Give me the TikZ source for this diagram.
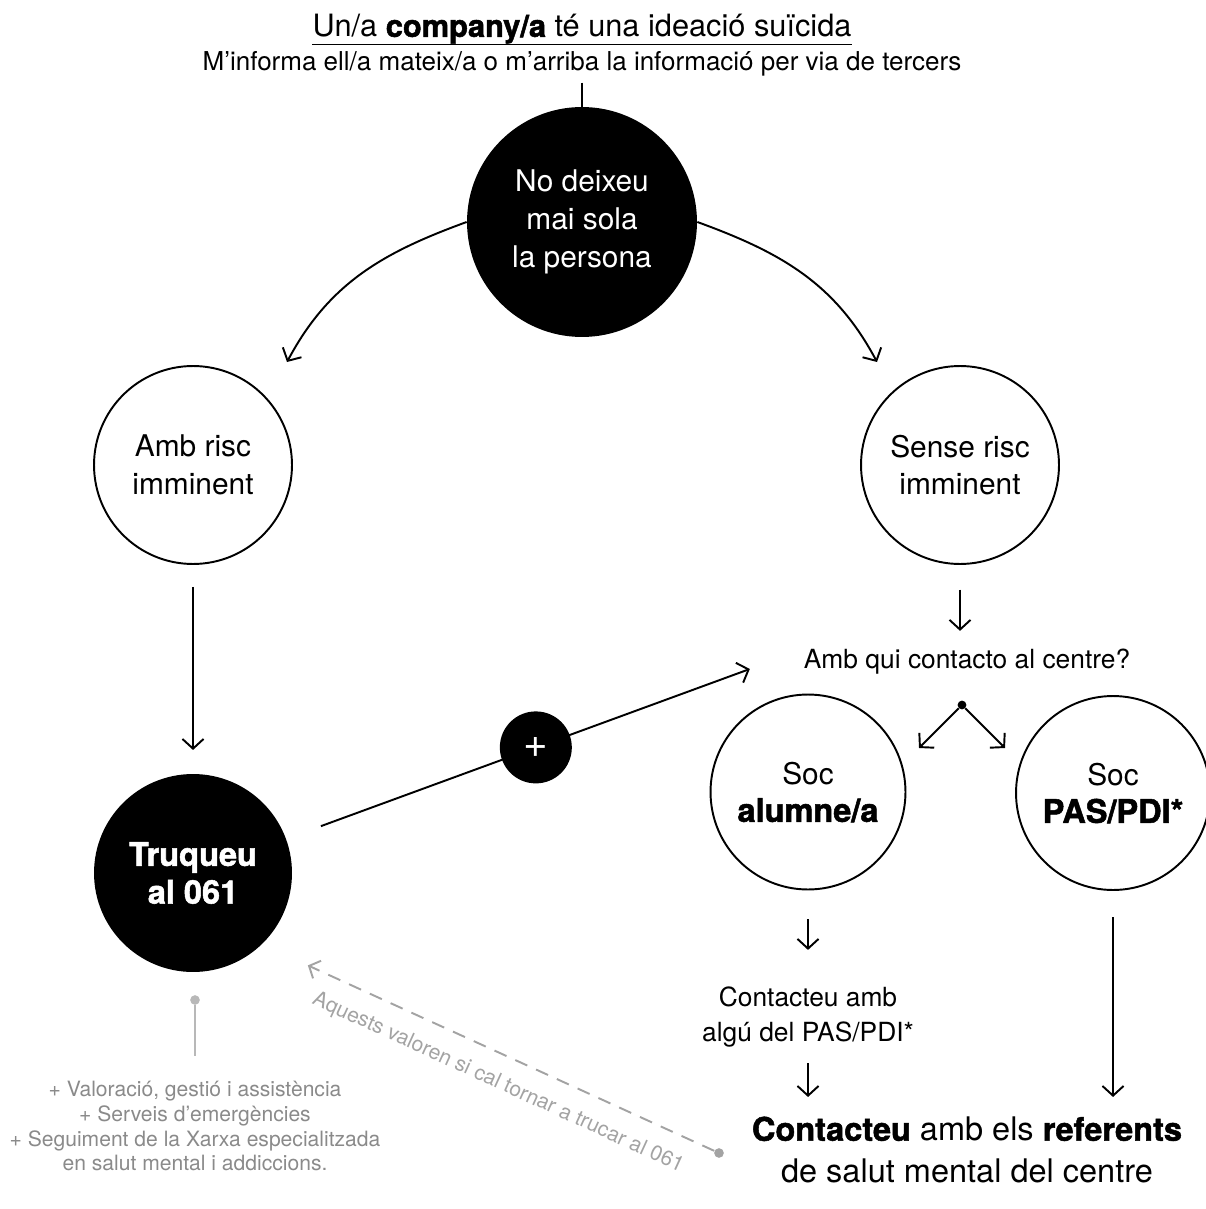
\documentclass[tikz,border=0pt]{standalone}
\usepackage{fontspec}
\setmainfont[BoldFeatures={FakeBold=1.6}]{TeX Gyre Heros}
\usetikzlibrary{arrows.meta, positioning, calc}

\definecolor{greytext}{HTML}{8A8A8A}
\definecolor{greyline}{HTML}{B8B8B8}
\definecolor{greydash}{HTML}{A3A3A3}

\newcommand{\heavy}[1]{{\fontsize{18.5}{21.5}\selectfont\bfseries #1}}

\tikzset{
    bigtxt/.style={font=\fontsize{17}{21.5}\selectfont},
    midtxt/.style={font=\fontsize{15}{19.5}\selectfont},
    smalltxt/.style={font=\fontsize{12}{14.2}\selectfont},
    blackdot/.style={circle, fill=black, text=white, align=center, inner sep=0pt, minimum size=#1, bigtxt},
    whitedot/.style={circle, draw=black, line width=1.1pt, align=center, inner sep=0pt, minimum size=#1, bigtxt},
    arr/.style={-{Straight Barb[length=5.5pt, width=12pt]}, line width=1.1pt},
    dasharr/.style={-{Straight Barb[length=5pt, width=11pt]}, line width=1.1pt, greydash, dash pattern=on 7.5pt off 5.5pt}
}

\begin{document}
\begin{tikzpicture}[x=0.02cm, y=0.02cm]
    \useasboundingbox (0,0) rectangle (1205,-1209);

    \node[font=\fontsize{17.5}{21.5}\selectfont, inner xsep=0pt] (title) at (582,-29) {Un/a \textbf{company/a} té una ideació suïcida};
    \draw[line width=0.8pt] ([yshift=-4.5pt]title.base west) -- ([yshift=-4.5pt]title.base east);
    \node[font=\fontsize{14.8}{16}\selectfont] (sub) at (582,-64) {M’informa ell/a mateix/a o m’arriba la informació per via de tercers};

    \node[blackdot=4.6cm] (nodeix) at (582,-222) {No deixeu\\mai sola\\la persona};
    \draw[line width=1.1pt] (sub) -- (nodeix);

    \node[whitedot=3.96cm] (ambrisc) at (193,-465) {Amb risc\\imminent};
    \node[whitedot=3.96cm] (senserisc) at (960,-465) {Sense risc\\imminent};
    \coordinate (lefttip) at (287,-362);
    \coordinate (righttip) at (877,-362);
    \draw[arr] (nodeix.west) to[out=200, in=62] (lefttip);
    \draw[arr] (nodeix.east) to[out=-20, in=118] (righttip);

    \node[blackdot=3.96cm] (truqueu) at (193,-873) {\heavy{Truqueu}\\\heavy{al 061}};
    \draw[arr, shorten <=12.5pt, shorten >=13.5pt] (ambrisc) -- (truqueu);

    \node[midtxt] (qui) at (967,-662) {Amb qui contacto al centre?};
    \draw[arr, shorten <=14pt, shorten >=7pt] (senserisc) -- (senserisc |- qui.north);
    \draw[arr, shorten <=21pt, shorten >=29pt] (truqueu) -- node[pos=0.488, blackdot=1.44cm, font=\fontsize{24}{24}\selectfont] (plus) {+} ([yshift=6pt]qui.west);

    \node[circle, fill=black, inner sep=0pt, minimum size=5pt] (split) at (962,-705) {};
    \draw[arr] (split) -- ++(-43,-43);
    \draw[arr] (split) -- ++(43,-43);

    \node[whitedot=3.9cm] (alumne) at (808,-792) {Soc\\\heavy{alumne/a}};
    \node[whitedot=3.88cm] (pdi) at (1113,-793) {Soc\\\heavy{PAS/PDI*}};

    \node[midtxt, align=center, inner sep=0pt] (contact1) at (808,-1017) {Contacteu amb\\algú del PAS/PDI*};
    \node[font=\fontsize{18.5}{24}\selectfont, align=center, inner sep=0pt] (referents) at (967,-1150) {\textbf{Contacteu} amb els \textbf{referents}\\de salut mental del centre};
    \draw[arr, shorten <=16.5pt, shorten >=21pt] (alumne) -- (contact1);
    \draw[arr, shorten <=9pt, shorten >=11pt] (contact1) -- (contact1 |- referents.north);
    \draw[arr, shorten <=15pt, shorten >=11pt] (pdi) -- (pdi |- referents.north);

    \node[circle, fill=greyline, inner sep=0pt, minimum size=5.5pt] (greydot) at (195,-1000) {};
    \node[smalltxt, text=greytext, align=center, inner sep=0pt] (services) at (195,-1126) {+ Valoració, gestió i assistència\\+ Serveis d’emergències\\+ Seguiment de la Xarxa especialitzada\\en salut mental i addiccions.};
    \draw[greyline, line width=1.1pt, shorten >=14pt] (greydot) -- (services);

    \node[circle, fill=greydash, inner sep=0pt, minimum size=5.5pt] (dashdot) at (719,-1153) {};
    \draw[dasharr, shorten >=28.7pt] (dashdot) -- (truqueu.-46);
    \node[smalltxt, text=greydash, rotate=-24.6] (redial) at (498,-1083) {Aquests valoren si cal tornar a trucar al 061};
\end{tikzpicture}
\end{document}
